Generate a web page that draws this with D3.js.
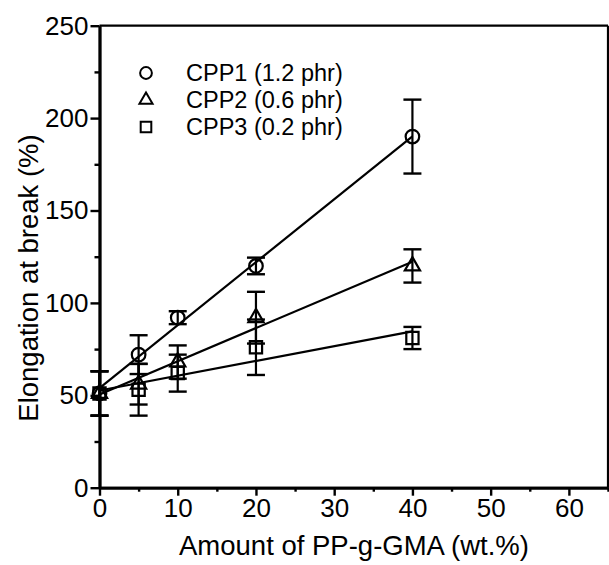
<!DOCTYPE html>
<html>
<head>
<meta charset="utf-8">
<script src="https://cdn.jsdelivr.net/npm/d3@7/dist/d3.min.js"></script>
<style>
  html, body { margin: 0; padding: 0; background: #fff; }
  svg { display: block; }
  text { font-family: "Liberation Sans", Arial, Helvetica, sans-serif; fill: #000; }
</style>
</head>
<body>
<svg id="chart" width="609" height="565"></svg>
<script>
// PP-g-GMA content (wt.%) for each blend
const amounts = [0, 5, 10, 20, 40];

// Elongation at break (%) and standard deviation per compatibilizer level
const seriesNames = ["CPP1 (1.2 phr)", "CPP2 (0.6 phr)", "CPP3 (0.2 phr)"];
const cpp1 = [51, 72, 92, 120, 190];
const cpp1Err = [12, 10.5, 3.5, 4.5, 20];
const cpp2 = [51, 56, 68, 92, 120];
const cpp2Err = [12, 11, 9, 14, 9];
const cpp3 = [51, 53, 62, 76, 81];
const cpp3Err = [12, 14, 10, 15, 6];

const xTicks = [0, 10, 20, 30, 40, 50, 60];
const xMinorTicks = [5, 15, 25, 35, 45, 55, 65];
const yTicks = [0, 50, 100, 150, 200, 250];
const yMinorTicks = [25, 75, 125, 175, 225];

const xTitle = "Amount of PP-g-GMA (wt.%)";
const yTitle = "Elongation at break (%)";

const svg = d3.select("#chart");
const plotLeft = 99.5, plotRight = 608, plotTop = 25.7, plotBottom = 487.7;

const x = d3.scaleLinear().domain([0, 65]).range([plotLeft, plotRight]);
const y = d3.scaleLinear().domain([0, 250]).range([plotBottom, plotTop]);

const series = [
  { name: seriesNames[0], values: cpp1, errs: cpp1Err, shape: d3.symbolCircle, size: 145 },
  { name: seriesNames[1], values: cpp2, errs: cpp2Err, shape: d3.symbolTriangle, size: 100 },
  { name: seriesNames[2], values: cpp3, errs: cpp3Err, shape: d3.symbolSquare, size: 150 }
];

// least-squares trend line for each series
function fit(xs, ys) {
  const mx = d3.mean(xs), my = d3.mean(ys);
  let sxy = 0, sxx = 0;
  xs.forEach((v, i) => { sxy += (v - mx) * (ys[i] - my); sxx += (v - mx) * (v - mx); });
  const b = sxy / sxx;
  return { a: my - b * mx, b };
}

const plot = svg.append("g");

series.forEach(s => {
  const f = fit(amounts, s.values);
  const x0 = d3.min(amounts), x1 = d3.max(amounts);
  plot.append("line")
    .attr("x1", x(x0)).attr("y1", y(f.a + f.b * x0))
    .attr("x2", x(x1)).attr("y2", y(f.a + f.b * x1))
    .attr("stroke", "#000").attr("stroke-width", 2.2);

  const g = plot.append("g");
  amounts.forEach((a, i) => {
    const v = s.values[i], e = s.errs[i];
    g.append("line")
      .attr("x1", x(a)).attr("x2", x(a))
      .attr("y1", y(v - e)).attr("y2", y(v + e))
      .attr("stroke", "#000").attr("stroke-width", 2.2);
    [v - e, v + e].forEach(c => {
      g.append("line")
        .attr("x1", x(a) - 9).attr("x2", x(a) + 9)
        .attr("y1", y(c)).attr("y2", y(c))
        .attr("stroke", "#000").attr("stroke-width", 2.4);
    });
    g.append("path")
      .attr("d", d3.symbol().type(s.shape).size(s.size)())
      .attr("transform", `translate(${x(a)},${y(v)})`)
      .attr("fill", "none").attr("stroke", "#000").attr("stroke-width", 2.2);
  });
});

// frame: top and right edges
svg.append("line").attr("x1", plotLeft).attr("x2", plotRight).attr("y1", plotTop).attr("y2", plotTop)
  .attr("stroke", "#000").attr("stroke-width", 2.2);
svg.append("line").attr("x1", plotRight).attr("x2", plotRight).attr("y1", plotTop).attr("y2", plotBottom)
  .attr("stroke", "#000").attr("stroke-width", 2.2);

// axes with major and minor ticks
function styleAxis(g) {
  g.select(".domain").attr("stroke-width", 2.8);
  g.selectAll(".tick line").attr("stroke-width", 2.4);
  g.selectAll("text").style("font-size", "26px").style("font-family", '"Liberation Sans", Arial, sans-serif');
}

svg.append("g").attr("transform", `translate(0,${plotBottom})`)
  .call(d3.axisBottom(x).tickValues(xTicks).tickSize(8).tickSizeOuter(0).tickPadding(3).tickFormat(d3.format("d")))
  .call(styleAxis);
svg.append("g").attr("transform", `translate(0,${plotBottom})`)
  .call(d3.axisBottom(x).tickValues(xMinorTicks).tickSize(4).tickSizeOuter(0).tickFormat(""))
  .call(styleAxis);

svg.append("g").attr("transform", `translate(${plotLeft},0)`)
  .call(d3.axisLeft(y).tickValues(yTicks).tickSize(9).tickSizeOuter(0).tickPadding(2).tickFormat(d3.format("d")))
  .call(styleAxis);
svg.append("g").attr("transform", `translate(${plotLeft},0)`)
  .call(d3.axisLeft(y).tickValues(yMinorTicks).tickSize(5).tickSizeOuter(0).tickFormat(""))
  .call(styleAxis);

// axis titles
svg.append("text")
  .attr("x", 354).attr("y", 555)
  .attr("text-anchor", "middle")
  .style("font-size", "27.5px")
  .text(xTitle);

svg.append("text")
  .attr("transform", "translate(38,278) rotate(-90)")
  .attr("text-anchor", "middle")
  .style("font-size", "27.5px")
  .text(yTitle);

// legend
const legend = svg.append("g");
series.forEach((s, i) => {
  const ly = 73 + i * 27;
  legend.append("path")
    .attr("d", d3.symbol().type(s.shape).size(s.size * 0.75)())
    .attr("transform", `translate(146,${ly})`)
    .attr("fill", "none").attr("stroke", "#000").attr("stroke-width", 2);
  legend.append("text")
    .attr("x", 186).attr("y", ly + 8.4)
    .style("font-size", "23.5px")
    .text(s.name);
});
</script>
</body>
</html>
